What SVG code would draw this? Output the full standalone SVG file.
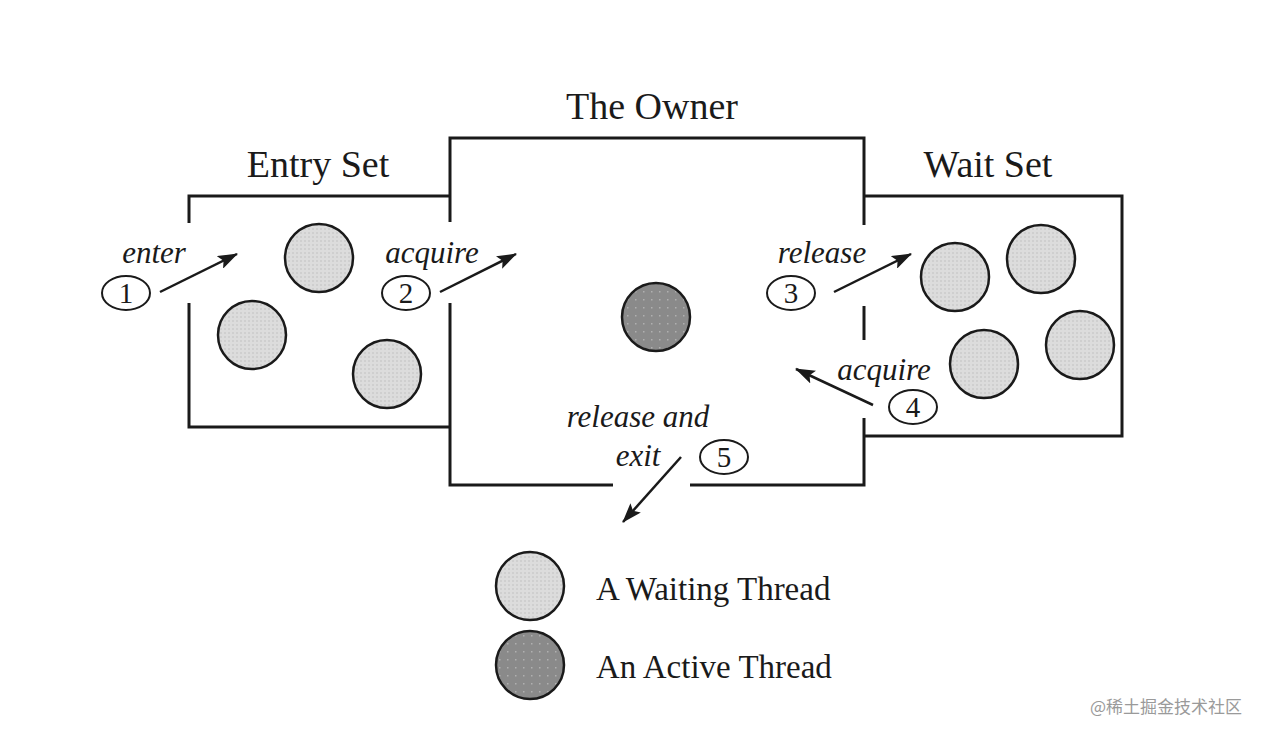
<svg xmlns="http://www.w3.org/2000/svg" width="1270" height="738" viewBox="0 0 1270 738">
<style>
.wall{fill:none;stroke:#1a1a1a;stroke-width:3;stroke-linecap:butt}
.title{font-family:"Liberation Serif",serif;font-size:38px;fill:#1a1a1a;text-anchor:middle}
.lab{font-family:"Liberation Serif",serif;font-style:italic;font-size:31px;fill:#1a1a1a;text-anchor:middle}
.num{font-family:"Liberation Serif",serif;font-size:29px;fill:#1a1a1a;text-anchor:middle}
.ell{fill:#fff;stroke:#1a1a1a;stroke-width:2}
.wait{fill:url(#pw);stroke:#1a1a1a;stroke-width:2.5}
.act{fill:url(#pa);stroke:#1a1a1a;stroke-width:2.5}
.arr{fill:none;stroke:#1a1a1a;stroke-width:2.5;marker-end:url(#ah)}
.leg{font-family:"Liberation Serif",serif;font-size:33px;fill:#1a1a1a}
</style>
<defs>
<pattern id="pw" width="4" height="4" patternUnits="userSpaceOnUse">
<rect width="4" height="4" fill="#dcdcdc"/>
<rect width="2" height="2" fill="#cfcfcf"/>
</pattern>
<pattern id="pa" width="8" height="8" patternUnits="userSpaceOnUse">
<rect width="8" height="8" fill="#8a8a8a"/>
<rect x="3" y="3" width="1.5" height="1.5" fill="#b0b0b0"/>
</pattern>
<marker id="ah" markerWidth="20" markerHeight="14" refX="19" refY="7" orient="auto" markerUnits="userSpaceOnUse" viewBox="0 0 20 14">
<path d="M0,0 L20,7 L0,14 L4,7 Z" fill="#1a1a1a"/>
</marker>
</defs>
<rect width="1270" height="738" fill="#fff"/>
<g id="walls">
<g id="entry-set">
<path class="wall" d="M189,223 V196 H450"/>
<path class="wall" d="M189,303 V427 H450"/>
<text class="title" x="318" y="177">Entry Set</text>
</g>
<g id="owner">
<path class="wall" d="M450,222 V138 H864 V225"/>
<path class="wall" d="M450,303 V485 H613"/>
<path class="wall" d="M690,485 H864 V418"/>
<path class="wall" d="M864,306 V340"/>
<text class="title" x="652" y="119">The Owner</text>
</g>
<g id="wait-set">
<path class="wall" d="M864,196 H1122 V436 H864"/>
<text class="title" x="988" y="177">Wait Set</text>
</g>
</g>
<g id="threads">
<circle class="wait" cx="319" cy="258" r="34"/>
<circle class="wait" cx="252" cy="335" r="34"/>
<circle class="wait" cx="387" cy="374" r="34"/>
<circle class="act" cx="656" cy="317" r="34"/>
<circle class="wait" cx="955" cy="277" r="34"/>
<circle class="wait" cx="1041" cy="259" r="34"/>
<circle class="wait" cx="984" cy="364" r="34"/>
<circle class="wait" cx="1080" cy="345" r="34"/>
</g>
<g id="connectors">
<line class="arr" x1="160" y1="292" x2="237" y2="254"/>
<line class="arr" x1="440" y1="292" x2="516" y2="254"/>
<line class="arr" x1="834" y1="292" x2="911" y2="254"/>
<line class="arr" x1="873" y1="405" x2="796" y2="369"/>
<line class="arr" x1="681" y1="457" x2="623" y2="522"/>
</g>
<g id="step-1">
<text class="lab" x="154" y="263">enter</text>
<ellipse class="ell" cx="126" cy="293" rx="24" ry="17"/>
<text class="num" x="126" y="303">1</text>
</g>
<g id="step-2">
<text class="lab" x="432" y="263">acquire</text>
<ellipse class="ell" cx="406" cy="293" rx="24" ry="17"/>
<text class="num" x="406" y="303">2</text>
</g>
<g id="step-3">
<text class="lab" x="822" y="263">release</text>
<ellipse class="ell" cx="791" cy="293" rx="24" ry="17"/>
<text class="num" x="791" y="303">3</text>
</g>
<g id="step-4">
<text class="lab" x="884" y="380">acquire</text>
<ellipse class="ell" cx="913" cy="407" rx="24" ry="17"/>
<text class="num" x="913" y="417">4</text>
</g>
<g id="step-5">
<text class="lab" x="638" y="427">release and</text>
<text class="lab" x="638" y="466">exit</text>
<ellipse class="ell" cx="724" cy="457" rx="24" ry="17"/>
<text class="num" x="724" y="467">5</text>
</g>
<g id="legend">
<circle class="wait" cx="530" cy="586" r="34"/>
<text class="leg" x="596" y="600">A Waiting Thread</text>
<circle class="act" cx="530" cy="665" r="34"/>
<text class="leg" x="596" y="678">An Active Thread</text>
</g>
<text x="1090" y="713" font-family="'Noto Sans CJK SC',sans-serif" font-size="17" fill="#9a9a9a">@稀土掘金技术社区</text>
</svg>
